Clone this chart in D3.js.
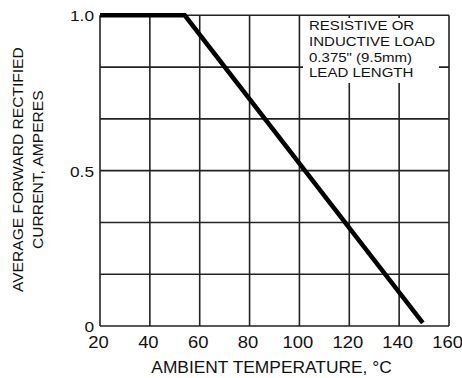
<!DOCTYPE html>
<html>
<head>
<meta charset="UTF-8">
<script src="https://cdn.jsdelivr.net/npm/d3@7"></script>
<style>
  body { margin: 0; background: white; }
  svg { display: block; }
  text { font-family: "Liberation Sans", Arial, sans-serif; fill: #111; }
</style>
</head>
<body>
<div id="chart"></div>
<script>
// derating curve
const tempC = [20, 54, 149.5];
const currentA = [1.0, 1.0, 0.01];

const xTicks = [20, 40, 60, 80, 100, 120, 140, 160];
const yGrid = [0, 1 / 6, 2 / 6, 3 / 6, 4 / 6, 5 / 6, 1];
const yTicks = [0, 0.5, 1.0];
const yTickLabels = ["0", "0.5", "1.0"];
const noteLines = ["RESISTIVE OR", "INDUCTIVE LOAD", "0.375\" (9.5mm)", "LEAD LENGTH"];
const xTitle = "AMBIENT TEMPERATURE, °C";
const yTitle = ["AVERAGE FORWARD RECTIFIED", "CURRENT, AMPERES"];

const w = 462, h = 378;
const plotLeft = 100, plotRight = 449, plotTop = 15.3, plotBottom = 326;
const stretch = 1.13; // the source lettering is a bit wide

const x = d3.scaleLinear().domain([20, 160]).range([plotLeft, plotRight]);
const y = d3.scaleLinear().domain([0, 1]).range([plotBottom, plotTop]);

const svg = d3.select("#chart").append("svg")
  .attr("width", w)
  .attr("height", h);

// grid
const grid = svg.append("g")
  .attr("stroke", "#222")
  .attr("stroke-width", 1.6);

grid.selectAll(".vgrid")
  .data(xTicks)
  .enter()
  .append("line")
  .attr("x1", d => x(d)).attr("x2", d => x(d))
  .attr("y1", y(1)).attr("y2", y(0));

grid.selectAll(".hgrid")
  .data(yGrid)
  .enter()
  .append("line")
  .attr("x1", x(20)).attr("x2", x(160))
  .attr("y1", d => y(d)).attr("y2", d => y(d));

// note box blanks out the grid behind it
svg.append("rect")
  .attr("x", 303).attr("y", 18)
  .attr("width", 136).attr("height", 65)
  .attr("fill", "white");

const note = svg.append("g")
  .attr("transform", `translate(309, 30) scale(${stretch}, 1)`);
note.selectAll("text")
  .data(noteLines)
  .enter()
  .append("text")
  .attr("x", 0)
  .attr("y", (d, i) => i * 15.8)
  .style("font-size", "13.3px")
  .text(d => d);

// axes (labels only, grid drawn above)
const xAxis = d3.axisBottom(x).tickValues(xTicks).tickSize(0).tickFormat(d3.format("d"));
const gx = svg.append("g")
  .attr("transform", `translate(0, ${plotBottom})`)
  .call(xAxis);
gx.select(".domain").remove();
gx.selectAll("text")
  .attr("y", 22.5)
  .attr("dy", 0)
  .attr("x", -2 / stretch)
  .attr("transform", `scale(${stretch}, 1)`)
  .style("font-size", "16.3px")
  .style("font-family", "'Liberation Sans', Arial, sans-serif")
  .style("fill", "#111");

const yAxis = d3.axisLeft(y).tickValues(yTicks).tickSize(0)
  .tickFormat((d, i) => yTickLabels[i]);
const gy = svg.append("g")
  .attr("transform", `translate(${plotLeft}, 0)`)
  .call(yAxis);
gy.select(".domain").remove();
gy.selectAll("text")
  .attr("x", -6 / stretch)
  .attr("dy", "0.36em")
  .attr("transform", `scale(${stretch}, 1)`)
  .style("font-size", "15.3px")
  .style("font-family", "'Liberation Sans', Arial, sans-serif")
  .style("fill", "#111");

// curve
const line = d3.line()
  .x((d, i) => x(tempC[i]))
  .y((d, i) => y(currentA[i]));

svg.append("path")
  .datum(tempC)
  .attr("d", line)
  .attr("fill", "none")
  .attr("stroke", "black")
  .attr("stroke-width", 4.5)
  .attr("stroke-linejoin", "miter");

// titles
svg.append("text")
  .attr("transform", `translate(${(plotLeft + plotRight) / 2 - 3}, 373) scale(1.06, 1)`)
  .attr("text-anchor", "middle")
  .style("font-size", "16.4px")
  .text(xTitle);

svg.selectAll(".ytitle")
  .data(yTitle)
  .enter()
  .append("text")
  .attr("transform", (d, i) => `translate(${23 + i * 20}, ${(plotTop + plotBottom) / 2 - 1}) rotate(-90) scale(${stretch}, 1)`)
  .attr("text-anchor", "middle")
  .style("font-size", "13.8px")
  .text(d => d);
</script>
</body>
</html>
